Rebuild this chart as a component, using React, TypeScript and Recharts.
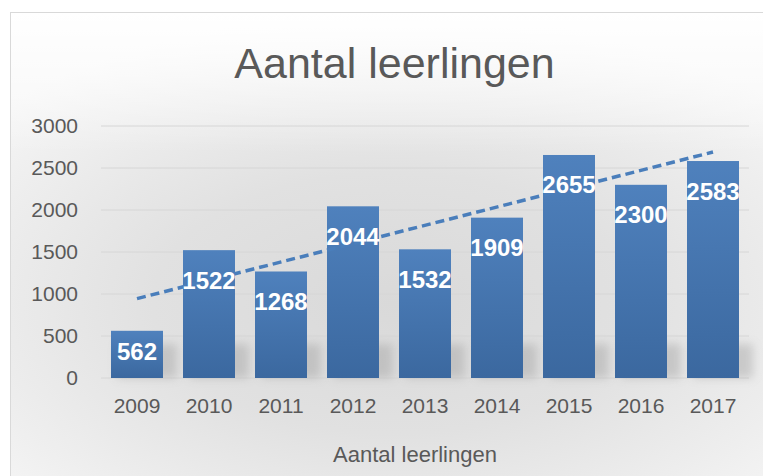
import React from 'react'
import { ComposedChart, Bar, Line, XAxis, YAxis, CartesianGrid, LabelList } from 'recharts'

const years = ['2009', '2010', '2011', '2012', '2013', '2014', '2015', '2016', '2017']
const students = [562, 1522, 1268, 2044, 1532, 1909, 2655, 2300, 2583]
// trend line: only the two end points are drawn
const trend = [945, null, null, null, null, null, null, null, 2690]
const yTicks = [0, 500, 1000, 1500, 2000, 2500, 3000]

const data = years.map((year, i) => ({ year, students: students[i], trend: trend[i] }))

const FONT = '"Liberation Sans", Arial, sans-serif'
const TEXT = '#595959'

function BarWithShadow(props: any) {
  const { x, y, width, height } = props
  if (!height) return null
  const bottom = y + height
  const sh = Math.min(height, 34)
  return (
    <g>
      <rect x={x + 6} y={bottom - sh} width={width + 8} height={sh} fill="#9a9a9a" opacity={0.4} filter="url(#barShadow)" />
      <rect x={x} y={y} width={width} height={height} fill="url(#barGrad)" />
    </g>
  )
}

function ValueLabel(props: any) {
  const { x, y, width, height, value } = props
  const dy = Math.min(30, height - 27)
  return (
    <text
      x={x + width / 2}
      y={y + dy}
      textAnchor="middle"
      dominantBaseline="central"
      fill="#ffffff"
      fontFamily={FONT}
      fontWeight="bold"
      fontSize={24}
    >
      {value}
    </text>
  )
}

export default function App() {
  return (
    <div style={{ position: 'fixed', left: 0, top: 0, width: 763, height: 476, overflow: 'hidden', background: '#fff' }}>
      <div
        style={{
          position: 'absolute', left: 10, top: 12, width: 767, height: 470,
          border: '1px solid #d9d9d9', boxSizing: 'border-box',
          background:
            'linear-gradient(to bottom, #ffffff 0%, rgba(255,255,255,0.6) 12%, rgba(255,255,255,0) 30%), ' +
            'radial-gradient(ellipse 70% 62% at 50% 62%, #d9d9d9 0%, #e1e1e1 45%, #eeeeee 80%, #f6f6f6 100%)',
        }}
      >
        <div style={{ position: 'absolute', left: 0, width: 767, top: 29, textAlign: 'center', fontFamily: FONT, fontSize: 43, lineHeight: 1, color: TEXT }}>
          Aantal leerlingen
        </div>
        <ComposedChart width={767} height={470} data={data} margin={{ top: 113, right: 29, left: 10, bottom: 75 }} barCategoryGap={10}>
          <defs>
            <linearGradient id="barGrad" x1="0" y1="0" x2="0" y2="1">
              <stop offset="0%" stopColor="#4f81bd" />
              <stop offset="100%" stopColor="#3b689f" />
            </linearGradient>
            <filter id="barShadow" x="-50%" y="-50%" width="200%" height="200%">
              <feGaussianBlur stdDeviation="5" />
            </filter>
          </defs>
          <CartesianGrid vertical={false} stroke="#d6d6d6" strokeWidth={1} />
          <XAxis dataKey="year" axisLine={false} tickLine={false} tickMargin={14} tick={{ fontSize: 21, fontFamily: FONT, fill: TEXT }} interval={0} />
          <YAxis domain={[0, 3000]} ticks={yTicks} axisLine={false} tickLine={false} width={80} tickMargin={17} tick={{ fontSize: 21, fontFamily: FONT, fill: TEXT }} />
          <Bar dataKey="students" shape={<BarWithShadow />} isAnimationActive={false}>
            <LabelList dataKey="students" content={<ValueLabel />} />
          </Bar>
          <Line dataKey="trend" connectNulls dot={false} stroke="#4a7ebb" strokeWidth={3.5} strokeDasharray="9 5" isAnimationActive={false} />
        </ComposedChart>
        <div style={{ position: 'absolute', left: 80, width: 648, top: 431, textAlign: 'center', fontFamily: FONT, fontSize: 22, lineHeight: 1, color: TEXT }}>
          Aantal leerlingen
        </div>
      </div>
    </div>
  )
}
